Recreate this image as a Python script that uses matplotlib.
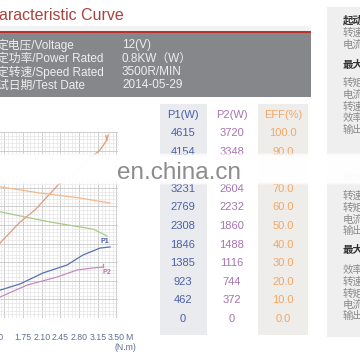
import matplotlib
matplotlib.use("Agg")
import matplotlib.pyplot as plt
from matplotlib.patches import Rectangle
import numpy as np

plt.rcParams['font.family'] = ['Liberation Sans', 'Noto Sans CJK SC', 'DejaVu Sans']

# ---- data ----
title = "aracteristic Curve"
spec_names = ["定电压/Voltage", "定功率/Power Rated", "定转速/Speed Rated", "试日期/Test Date"]
spec_values = ["12(V)", "0.8KW（W）", "3500R/MIN", "2014-05-29"]

p1_col = [4615, 4154, 3692, 3231, 2769, 2308, 1846, 1385, 923, 462, 0]
p2_col = [3720, 3348, 2976, 2604, 2232, 1860, 1488, 1116, 744, 372, 0]
eff_col = [100.0, 90.0, 80.0, 70.0, 60.0, 50.0, 40.0, 30.0, 20.0, 10.0, 0.0]

torque_ticks = [1.40, 1.75, 2.10, 2.45, 2.80, 3.15, 3.50]

# curves (torque N.m, percent of grid height)
cur_t = [1.30, 1.319, 1.694, 1.975, 2.405, 2.724, 2.967, 3.192, 3.323]
cur_v = [39.0, 40.3, 51.6, 58.1, 71.5, 78.5, 84.9, 90.3, 95.7]
spd_t = [1.30, 2.068, 2.817, 3.379]
spd_v = [70.6, 67.2, 64.5, 61.8]
eff_t = [1.30, 2.255, 3.061, 3.323]
eff_v = [57.2, 51.6, 47.8, 44.1]
p1_t = [1.30, 1.694, 2.124, 2.574, 2.874, 3.192, 3.379]
p1_v = [14.8, 18.3, 24.2, 28.5, 33.9, 37.6, 38.2]
p2_t = [1.30, 1.825, 2.387, 2.761, 3.061, 3.248]
p2_v = [11.0, 17.7, 22.0, 25.8, 26.9, 27.4]

panel_items = [("起动点", True), ("转速", False), ("电流", False),
               ("最大效率点", True), ("转矩", False), ("电流", False), ("转速", False),
               ("效率", False), ("输出", False),
               ("最大输出点", True), ("转速", False), ("转矩", False), ("电流", False),
               ("输出", False),
               ("最大转矩点", True), ("效率", False), ("转速", False), ("转矩", False),
               ("电流", False), ("输出", False)]
panel_y = [20, 33, 45, 65, 83, 95, 107, 118, 130, 178, 196, 208, 220, 231,
           250, 270, 282, 294, 305, 316]

# ---- figure ----
fig = plt.figure(figsize=(3.6, 3.6), dpi=100)
ax = fig.add_axes([0, 0, 1, 1], zorder=0)
ax.set_xlim(0, 360)
ax.set_ylim(360, 0)
ax.axis('off')

# title + spec box
ax.text(-1, 15, title, fontsize=11.5, color='#a8443f', va='center', ha='left')
ax.add_patch(Rectangle((0, 26), 311, 5, color='#f2f2f2', lw=0))
ax.add_patch(Rectangle((0, 31), 311, 2, color='#b8322e', lw=0))
ax.add_patch(Rectangle((0, 33), 311, 64, color='#86878b', lw=0))
for i, (n, v) in enumerate(zip(spec_names, spec_values)):
    yy = 45 + i * 13.5
    ax.text(-3, yy, n, fontsize=8.5, color='#eeeeee', va='center', ha='left')
    ax.text(122, yy, v, fontsize=8.5, color='#eeeeee', va='center', ha='left')

# table
ax.add_patch(Rectangle((160, 104), 47, 231, color='#e9ebef', lw=0))
ax.add_patch(Rectangle((258, 104), 50, 231, color='#efedea', lw=0))
cols = [(183, "P1(W)", p1_col, '#4c5fa6', "{:d}"),
        (232, "P2(W)", p2_col, '#a673b0', "{:d}"),
        (283, "EFF(%)", eff_col, '#f2a766', "{:.1f}")]
for x, head, vals, c, fmt in cols:
    ax.text(x, 115, head, fontsize=8, color=c, ha='center', va='center')
    for i, v in enumerate(vals):
        ax.text(x, 133 + i * 18.6, fmt.format(v), fontsize=8, color=c,
                ha='center', va='center')

# right panel
ax.add_patch(Rectangle((327, 7), 40, 330, color='#efefef', lw=0))
for (txt, bold), yy in zip(panel_items, panel_y):
    ax.text(343, yy, txt, fontsize=7.5, ha='left', va='center',
            color='#333333' if bold else '#8a8a8a',
            fontweight='bold' if bold else 'normal',
            family=['Noto Sans CJK SC', 'DejaVu Sans'])

# chart
cax = fig.add_axes([0, (360 - 318) / 360, 118 / 360, 186 / 360], zorder=1)
cax.set_xticks(torque_ticks)
cax.set_xticks(np.arange(1.33, 3.53, 0.07), minor=True)
cax.set_yticks(np.arange(0, 101, 10))
cax.set_yticks(np.arange(0, 101, 2), minor=True)
cax.grid(which='minor', color='#e4e4e4', lw=0.5)
cax.grid(which='major', color='#c6c6c6', lw=0.6)
cax.set_axisbelow(True)
for s in cax.spines.values():
    s.set_visible(False)
cax.tick_params(which='both', length=0, labelleft=False)
cax.tick_params(axis='x', pad=11, labelsize=6.3, labelcolor='#5f6f95')
# first label sits further left in the original, drawn separately below
cax.set_xticklabels([""] + ["%.2f" % t for t in torque_ticks[1:]])

cax.plot(cur_t, cur_v, color='#e29a7a', lw=0.9)
cax.plot([3.30, 3.323, 3.345], [98, 95.7, 98.5], color='#e29a7a', lw=0.9)
cax.plot(spd_t, spd_v, color='#f4b88a', lw=0.9)
cax.plot(eff_t, eff_v, color='#a9c98c', lw=0.9)
cax.plot(p1_t, p1_v, color='#5a6fb0', lw=0.9)
cax.plot(p2_t, p2_v, color='#c88ac0', lw=0.9)
cax.plot([3.248, 3.248], [27.4, 29.0], color='#c88ac0', lw=0.9)
cax.text(3.20, 40.5, "P1", fontsize=5, color='#4c5fa6', fontweight='bold')
cax.text(3.23, 23.5, "P2", fontsize=5, color='#c070b8', fontweight='bold')
cax.set_xlim(1.319, 3.529)
cax.set_ylim(0, 100)

ax.text(-5.5, 337, "%.2f" % torque_ticks[0], fontsize=6.3, color='#5f6f95',
        ha='center', va='center')
ax.text(128.5, 337, "M", fontsize=6.3, color='#5f6f95', ha='center', va='center')
ax.text(125, 348, "(N.m)", fontsize=6.3, color='#5f6f95', ha='center', va='center')

# watermark band
top = fig.add_axes([0, 0, 1, 1], zorder=2)
top.set_xlim(0, 360)
top.set_ylim(360, 0)
top.axis('off')
top.patch.set_alpha(0)
for k, a in enumerate([0.3, 0.5, 0.7]):
    top.add_patch(Rectangle((0, 153 + k), 360, 32 - 2 * k, color='white', alpha=a, lw=0))
top.add_patch(Rectangle((0, 157), 360, 25, color='white', alpha=0.85, lw=0))
top.text(117, 179, "en.china.cn", fontsize=17.5, color='#8c8c8c',
         ha='left', va='baseline')

fig.savefig("out.png", dpi=100)
